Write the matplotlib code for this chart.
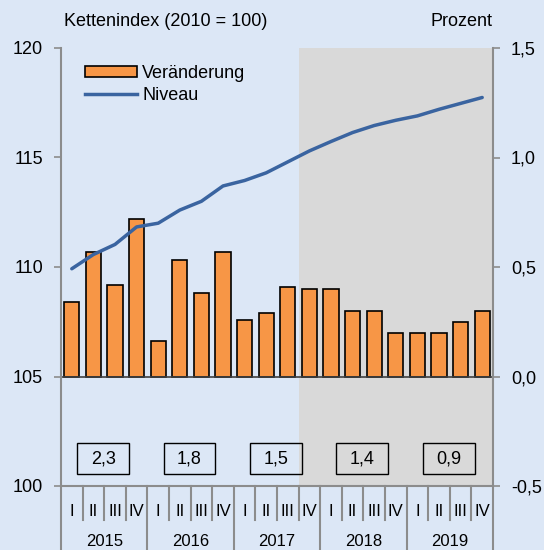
import matplotlib.pyplot as plt
from matplotlib.lines import Line2D
from matplotlib.patches import Patch, Rectangle
import matplotlib.transforms as mtransforms

plt.rcParams['font.family'] = ['Liberation Sans', 'DejaVu Sans']
plt.rcParams['font.size'] = 13

years = ["2015", "2016", "2017", "2018", "2019"]
quarters = ["I", "II", "III", "IV"]
# quarterly change in percent (right axis)
veraenderung = [0.34, 0.57, 0.42, 0.72, 0.16, 0.53, 0.38, 0.57, 0.26, 0.29,
                0.41, 0.40, 0.40, 0.30, 0.30, 0.20, 0.20, 0.20, 0.25, 0.30]
# chain index level (left axis)
niveau = [109.92, 110.57, 111.03, 111.83, 112.0, 112.6, 113.0, 113.7, 113.95, 114.3,
          114.8, 115.3, 115.73, 116.14, 116.46, 116.7, 116.9, 117.2, 117.47, 117.74]
jahresraten = ["2,3", "1,8", "1,5", "1,4", "0,9"]
forecast_start = 11  # 2017 IV

bg = "#dce7f6"
orange = "#f79646"
blue = "#3a64a0"
grey = "#8c8c8c"

fig = plt.figure(figsize=(5.44, 5.50), dpi=100, facecolor=bg)
axl = fig.add_axes([61/544, 64/550, 432/544, 438/550])
axr = axl.twinx()
axl.set_zorder(axr.get_zorder() + 1)
axl.patch.set_visible(False)
axr.patch.set_visible(False)

x = list(range(len(veraenderung)))

axr.axvspan(forecast_start - 0.5, len(x) - 0.5, color="#d9d9d9", lw=0, zorder=0)
axr.bar(x, veraenderung, width=0.7, color=orange, edgecolor="black", linewidth=1.2, zorder=2)
axr.axhline(0, color="#404040", lw=1.2, zorder=3)
axr.set_ylim(-0.5, 1.5)
axr.set_yticks([-0.5, 0, 0.5, 1.0, 1.5])
axr.set_yticklabels(["-0,5", "0,0", "0,5", "1,0", "1,5"])

axl.plot(x, niveau, color=blue, lw=2.5, solid_capstyle="round", zorder=4)
axl.set_ylim(100, 120)
axl.set_yticks([100, 105, 110, 115, 120])
axl.set_xlim(-0.5, len(x) - 0.5)

for ax in (axl, axr):
    for s in ax.spines.values():
        s.set_visible(False)
    ax.tick_params(axis="y", length=5, width=1.2, color=grey, pad=8, labelsize=13)
axl.tick_params(axis="x", length=0, pad=13, labelsize=12)
axl.set_xticks(x)
axl.set_xticklabels(quarters * len(years))

trans = mtransforms.blended_transform_factory(axl.transData, axl.transAxes)
bottom = -64/438
# axis lines
axl.add_line(Line2D([-0.5, 19.5], [0, 0], transform=trans, color=grey, lw=1.5, clip_on=False))
for xv in (-0.5, 19.5):
    axl.add_line(Line2D([xv, xv], [bottom, 1], transform=trans, color=grey, lw=1.5, clip_on=False))
for k in range(1, len(x)):
    xv = k - 0.5
    y0 = bottom if k % 4 == 0 else -34/438
    axl.add_line(Line2D([xv, xv], [y0, 0], transform=trans, color=grey, lw=1.5, clip_on=False))

# yearly rates in boxes
box_y = 101.25
for i, yr in enumerate(years):
    xc = 4*i + 1.5
    axl.text(xc, -55/438, yr, transform=trans, ha="center", va="center", fontsize=12)
    axl.add_patch(Rectangle((xc - 1.25, box_y - 0.7), 2.4, 1.4, fc="none", ec="black", lw=1.0, zorder=5))
    axl.text(xc - 0.05, box_y, jahresraten[i], ha="center", va="center", fontsize=13, zorder=5)

fig.text(64/544, 1 - 22/550, "Kettenindex (2010 = 100)", ha="left", va="center", fontsize=13)
fig.text(492/544, 1 - 22/550, "Prozent", ha="right", va="center", fontsize=13)

handles = [Patch(facecolor=orange, edgecolor="black", linewidth=1.2),
           Line2D([], [], color=blue, lw=2.5)]
axl.legend(handles, ["Veränderung", "Niveau"], loc="upper left", bbox_to_anchor=(0.055, 0.962),
           frameon=False, fontsize=13, handlelength=2.9, handleheight=0.55, handletextpad=0.28,
           labelspacing=0.3, borderaxespad=0, borderpad=0)

fig.savefig("out.png", dpi=100, facecolor=bg)
